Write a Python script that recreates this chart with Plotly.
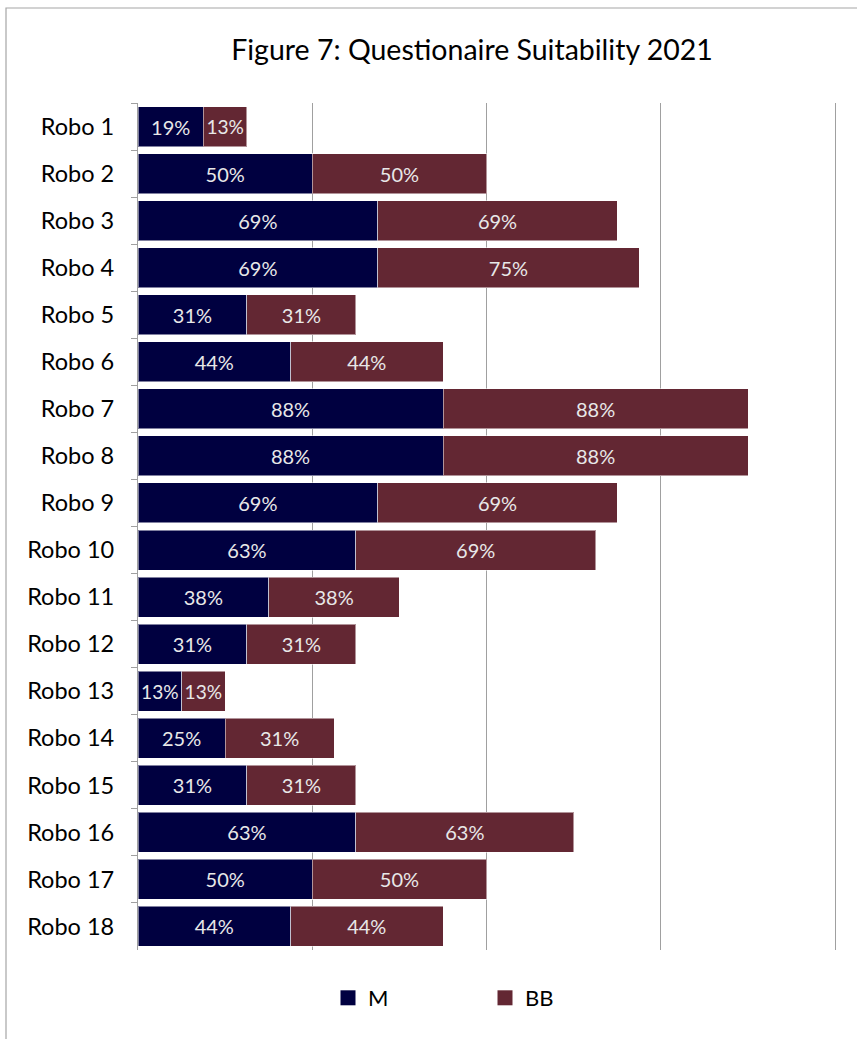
import plotly.graph_objects as go

categories = [f"Robo {i}" for i in range(1, 19)]
m_values = [0.1875, 0.50, 0.6875, 0.6875, 0.3125, 0.4375, 0.875, 0.875, 0.6875,
            0.625, 0.375, 0.3125, 0.125, 0.25, 0.3125, 0.625, 0.50, 0.4375]
bb_values = [0.125, 0.50, 0.6875, 0.75, 0.3125, 0.4375, 0.875, 0.875, 0.6875,
             0.6875, 0.375, 0.3125, 0.125, 0.3125, 0.3125, 0.625, 0.50, 0.4375]
series_names = ["M", "BB"]
series_colors = ["#000040", "#632733"]

FONT = "Lato"
W, H = 857, 1039
L, R, T, B = 138, 19, 103, 89
pw, ph = W - L - R, H - T - B

def px_x(p):
    return (p - L) / pw

def px_y(p):
    return (H - B - p) / ph

fig = go.Figure()
for name, vals, col in zip(series_names, [m_values, bb_values], series_colors):
    fig.add_trace(go.Bar(
        y=categories, x=vals, name=name, orientation="h",
        marker=dict(color=col, line=dict(color="rgba(255,255,255,0.5)", width=1)),
        texttemplate="%{x:.0%}",
        textposition="inside", insidetextanchor="middle",
        textfont=dict(family=FONT, size=20, color="#e8e8e8"),
        hoverinfo="skip", showlegend=False,
    ))
# legend entries with larger square symbols
for name, col in zip(series_names, series_colors):
    fig.add_trace(go.Scatter(
        x=[None], y=[None], mode="markers", name=name,
        marker=dict(symbol="square", size=15, color=col),
        showlegend=True,
    ))

fig.update_layout(
    width=W, height=H,
    barmode="stack", bargap=0.15,
    margin=dict(l=L, r=R, t=T, b=B),
    paper_bgcolor="white", plot_bgcolor="white",
    font=dict(family=FONT, color="#000000"),
    title=dict(text="Figure 7: Questionaire Suitability 2021",
               xref="container", x=472 / W, xanchor="center",
               yref="container", y=1 - 50 / H, yanchor="middle",
               font=dict(family=FONT, size=28.5, color="#000000")),
    showlegend=True,
    legend=dict(orientation="h", x=px_x(485), xanchor="center",
                y=px_y(998), yanchor="middle",
                font=dict(family=FONT, size=22, color="#000000"),
                entrywidth=112, traceorder="normal", itemwidth=30),
)
fig.update_xaxes(range=[0, 2.008], dtick=0.5, showticklabels=False,
                 showgrid=True, gridcolor="#a0a0a0", gridwidth=1.2,
                 zeroline=False, showline=False, fixedrange=True)
fig.update_yaxes(autorange="reversed", showline=True, linecolor="#a0a0a0",
                 linewidth=1.2, ticks="outside", tickson="boundaries",
                 ticklen=6, tickcolor="#a0a0a0",
                 tickfont=dict(family=FONT, size=23.5, color="#000000"),
                 ticklabelstandoff=18, fixedrange=True)

fig.add_shape(type="rect", xref="paper", yref="paper",
              x0=px_x(6), x1=px_x(870), y0=px_y(1050), y1=px_y(8),
              line=dict(color="#a6a6a6", width=1.2), layer="below")

fig.write_html("out.html", config={"displayModeBar": False},
               post_script="document.body.style.margin='0';")
